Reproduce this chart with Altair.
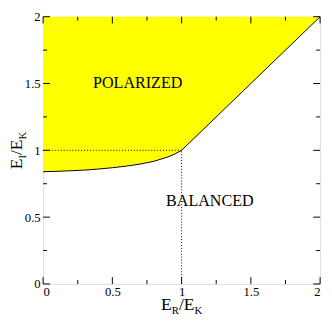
import altair as alt
import pandas as pd

# boundary curve between POLARIZED (above) and BALANCED (below)
curve_x = [0.0, 0.1, 0.2, 0.3, 0.4, 0.5, 0.6, 0.7, 0.8, 0.9, 0.95, 1.0, 2.0]
curve_y = [0.840, 0.843, 0.847, 0.852, 0.860, 0.870, 0.882, 0.897, 0.918, 0.950, 0.972, 1.0, 2.0]
top_y = [2.0] * len(curve_x)

major_ticks = [0, 0.5, 1, 1.5, 2]
minor_ticks = [0.25, 0.75, 1.25, 1.75]

region_labels = ["POLARIZED", "BALANCED"]
region_x = [0.683, 1.204]
region_y = [1.465, 0.585]

W, H = 284, 274
FONT = "Liberation Serif"

xs = alt.Scale(domain=[0, 2], nice=False, zero=False)
ys = alt.Scale(domain=[0, 2], nice=False, zero=False)

df = pd.DataFrame({"x": curve_x, "y": curve_y, "top": top_y})

area = alt.Chart(df).mark_area(color="#FFFF00", opacity=1).encode(
    x=alt.X("x:Q", scale=xs,
            axis=alt.Axis(values=major_ticks, format="~g", ticks=False, domain=False, grid=False,
                          title=None, labelFont=FONT, labelFontSize=13, labelColor="black",
                          labelPadding=2)),
    y=alt.Y("y:Q", scale=ys,
            axis=alt.Axis(values=major_ticks, format="~g", ticks=False, domain=False, grid=False,
                          title=None, labelFont=FONT, labelFontSize=13, labelColor="black",
                          labelPadding=3)),
    y2="top:Q",
)
line = alt.Chart(df).mark_line(color="black", strokeWidth=1).encode(
    x=alt.X("x:Q", scale=xs), y=alt.Y("y:Q", scale=ys)
)

# dotted guide lines at (1,1)
guide_h = alt.Chart(pd.DataFrame({"x": [0.0], "x2": [1.0], "y": [1.0]})).mark_rule(
    color="black", strokeDash=[1, 2], strokeWidth=1).encode(
    x=alt.X("x:Q", scale=xs), x2="x2:Q", y=alt.Y("y:Q", scale=ys))
guide_v = alt.Chart(pd.DataFrame({"x": [1.0], "y": [0.0], "y2": [1.0]})).mark_rule(
    color="black", strokeDash=[1, 2], strokeWidth=1).encode(
    x=alt.X("x:Q", scale=xs), y=alt.Y("y:Q", scale=ys), y2="y2:Q")

labels = alt.Chart(pd.DataFrame({"t": region_labels, "x": region_x, "y": region_y})).mark_text(
    font=FONT, fontSize=16.5, color="black", align="center", baseline="alphabetic").encode(
    x=alt.X("x:Q", scale=xs), y=alt.Y("y:Q", scale=ys), text="t:N")

# inside ticks on all four sides
def ticks(vals, length):
    d = pd.DataFrame({"v": vals})
    b = alt.Chart(d).mark_rule(color="black", strokeWidth=1)
    return [
        b.encode(x=alt.X("v:Q", scale=xs), y=alt.value(H), y2=alt.value(H - length)),
        b.encode(x=alt.X("v:Q", scale=xs), y=alt.value(0), y2=alt.value(length)),
        b.encode(y=alt.Y("v:Q", scale=ys), x=alt.value(0), x2=alt.value(length)),
        b.encode(y=alt.Y("v:Q", scale=ys), x=alt.value(W), x2=alt.value(W - length)),
    ]

tick_layers = ticks(major_ticks, 7) + ticks(minor_ticks, 4)

# axis titles with subscripts
def piece(text, size, x, y, angle=0):
    return alt.Chart(pd.DataFrame({"t": [text]})).mark_text(
        font=FONT, fontSize=size, color="black", align="left", baseline="alphabetic",
        angle=angle).encode(text="t:N", x=alt.value(x), y=alt.value(y))

big, small = 18, 11
xb = H + 27
xt = [
    piece("E", big, 121, xb), piece("R", small, 132, xb + 4),
    piece("/", big, 139.3, xb), piece("E", big, 144.3, xb), piece("K", small, 155.3, xb + 4),
]
yc = H / 2 + 19.5
yb = -22
yt = [
    piece("E", big, yb, yc, 270), piece("I", small, yb + 4, yc - 11, 270),
    piece("/", big, yb, yc - 14.7, 270), piece("E", big, yb, yc - 19.7, 270),
    piece("K", small, yb + 4, yc - 30.7, 270),
]

chart = alt.layer(area, line, guide_h, guide_v, labels, *tick_layers, *xt, *yt).properties(
    width=W, height=H,
    autosize=alt.AutoSizeParams(type="none"),
    padding={"left": 36, "top": 5, "right": 4, "bottom": 32},
).configure_view(stroke="black", strokeWidth=1).configure(background="white")

chart.save("out.html", embed_options={"renderer": "svg", "actions": False})
